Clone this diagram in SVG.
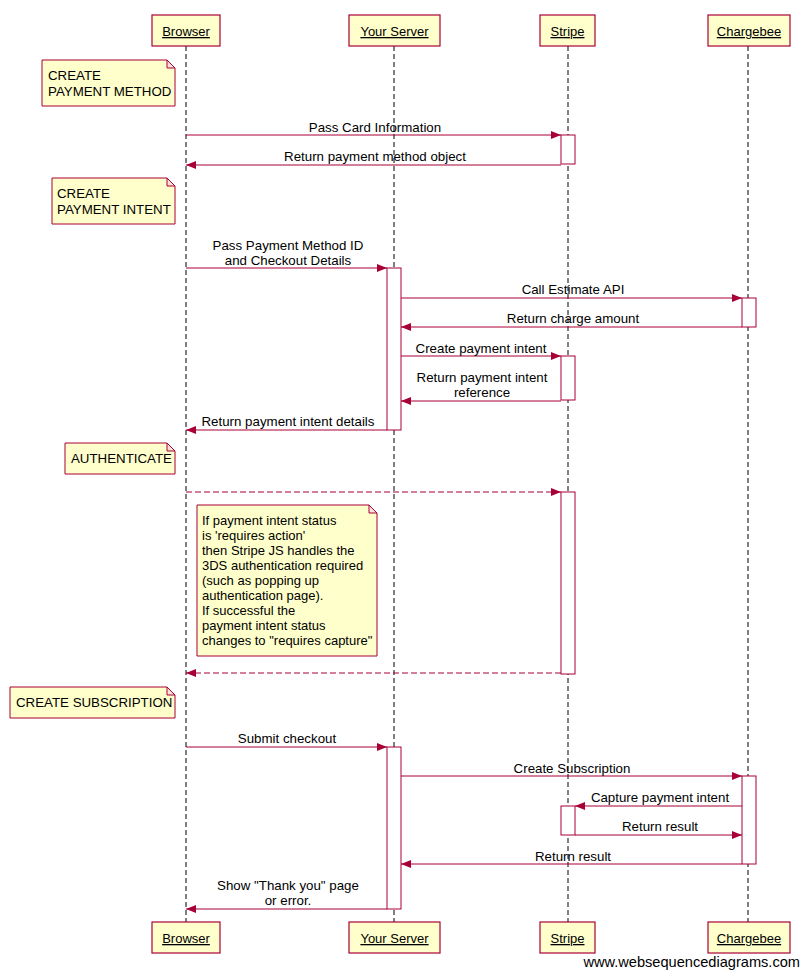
<svg xmlns="http://www.w3.org/2000/svg" width="805" height="977" viewBox="0 0 805 977">
<style>
text{font-family:"Liberation Sans",Arial,sans-serif;font-size:13.3px;fill:#000}
.pbox{fill:#ffffcc;stroke:#a80036;stroke-width:1.2}
.plab{text-anchor:middle;text-decoration:underline;font-size:13px}
.life{stroke:#000;stroke-width:1;stroke-dasharray:5,3}
.act{fill:#fff;stroke:#a80036;stroke-width:1}
.note{fill:#ffffcc;stroke:#a80036;stroke-width:1}
.ear{fill:#fbe0d8;stroke:#a80036;stroke-width:1}
.msg{stroke:#a80036;stroke-width:1;fill:none;marker-end:url(#ah)}
.dash{stroke-dasharray:6,3}
.ml{text-anchor:middle}
.nt{font-size:13px}
</style>
<defs>
<marker id="ah" viewBox="0 0 10 8" refX="10" refY="4" markerWidth="10" markerHeight="8" markerUnits="userSpaceOnUse" orient="auto">
<path d="M0,0 L10,4 L0,8 z" fill="#a80036"/>
</marker>
</defs>
<rect width="805" height="977" fill="#fff"/>
<g id="lifelines">
<line class="life" x1="186" y1="46" x2="186" y2="922"/>
<line class="life" x1="394" y1="46" x2="394" y2="922"/>
<line class="life" x1="568" y1="46" x2="568" y2="922"/>
<line class="life" x1="748" y1="46" x2="748" y2="922"/>
</g>
<g id="p-browser">
<rect class="pbox" x="152" y="15" width="68" height="31"/><text class="plab" x="186" y="36">Browser</text>
<rect class="pbox" x="152" y="922" width="68" height="31"/><text class="plab" x="186" y="943">Browser</text>
</g>
<g id="p-server">
<rect class="pbox" x="349" y="15" width="91" height="31"/><text class="plab" x="394.5" y="36">Your Server</text>
<rect class="pbox" x="349" y="922" width="91" height="31"/><text class="plab" x="394.5" y="943">Your Server</text>
</g>
<g id="p-stripe">
<rect class="pbox" x="540" y="15" width="55" height="31"/><text class="plab" x="567.5" y="36">Stripe</text>
<rect class="pbox" x="540" y="922" width="55" height="31"/><text class="plab" x="567.5" y="943">Stripe</text>
</g>
<g id="p-chargebee">
<rect class="pbox" x="708" y="15" width="82" height="31"/><text class="plab" x="749" y="36">Chargebee</text>
<rect class="pbox" x="708" y="922" width="82" height="31"/><text class="plab" x="749" y="943">Chargebee</text>
</g>
<g id="activations">
<rect class="act" x="561" y="135" width="14" height="29"/>
<rect class="act" x="387" y="268" width="14" height="162"/>
<rect class="act" x="742" y="298" width="14" height="29"/>
<rect class="act" x="561" y="356" width="14" height="44"/>
<rect class="act" x="561" y="492" width="14" height="182"/>
<rect class="act" x="387" y="747" width="14" height="162"/>
<rect class="act" x="742" y="776" width="14" height="88"/>
<rect class="act" x="561" y="806" width="14" height="29"/>
</g>
<g id="note-method">
<path class="note" d="M42,60 H167 L175,68 V106 H42 Z"/><path class="ear" d="M167,60 V68 H175 Z"/>
<text x="48" y="80">CREATE</text><text x="48" y="96">PAYMENT METHOD</text>
</g>
<g id="note-intent">
<path class="note" d="M52,178 H167 L175,186 V224 H52 Z"/><path class="ear" d="M167,178 V186 H175 Z"/>
<text x="57" y="198">CREATE</text><text x="57" y="214">PAYMENT INTENT</text>
</g>
<g id="note-auth">
<path class="note" d="M65,443 H167 L175,451 V474 H65 Z"/><path class="ear" d="M167,443 V451 H175 Z"/>
<text x="71" y="463">AUTHENTICATE</text>
</g>
<g id="note-3ds">
<path class="note" d="M197,505 H369 L377,513 V656 H197 Z"/><path class="ear" d="M369,505 V513 H377 Z"/>
<text class="nt" x="202" y="525">If payment intent status</text>
<text class="nt" x="202" y="540">is 'requires action'</text>
<text class="nt" x="202" y="555">then Stripe JS handles the</text>
<text class="nt" x="202" y="570">3DS authentication required</text>
<text class="nt" x="202" y="585">(such as popping up</text>
<text class="nt" x="202" y="600">authentication page).</text>
<text class="nt" x="202" y="615">If successful the</text>
<text class="nt" x="202" y="630">payment intent status</text>
<text class="nt" x="202" y="645">changes to "requires capture"</text>
</g>
<g id="note-sub">
<path class="note" d="M10,687 H167 L175,695 V718 H10 Z"/><path class="ear" d="M167,687 V695 H175 Z"/>
<text x="16" y="707">CREATE SUBSCRIPTION</text>
</g>
<g id="connectors">
<line class="msg" x1="186" y1="135" x2="561" y2="135"/>
<text class="ml" x="375" y="132">Pass Card Information</text>
<line class="msg" x1="561" y1="165" x2="186" y2="165"/>
<text class="ml" x="375" y="161">Return payment method object</text>
<line class="msg" x1="186" y1="268" x2="387" y2="268"/>
<text class="ml" x="288" y="250">Pass Payment Method ID</text>
<text class="ml" x="288" y="265">and Checkout Details</text>
<line class="msg" x1="401" y1="298" x2="742" y2="298"/>
<text class="ml" x="573" y="294">Call Estimate API</text>
<line class="msg" x1="742" y1="327" x2="401" y2="327"/>
<text class="ml" x="573" y="323">Return charge amount</text>
<line class="msg" x1="401" y1="356" x2="561" y2="356"/>
<text class="ml" x="481" y="353">Create payment intent</text>
<line class="msg" x1="561" y1="401" x2="401" y2="401"/>
<text class="ml" x="482" y="382">Return payment intent</text>
<text class="ml" x="482" y="397">reference</text>
<line class="msg" x1="387" y1="430" x2="186" y2="430"/>
<text class="ml" x="288" y="426">Return payment intent details</text>
<line class="msg dash" x1="186" y1="492" x2="561" y2="492"/>
<line class="msg dash" x1="561" y1="673" x2="186" y2="673"/>
<line class="msg" x1="186" y1="747" x2="387" y2="747"/>
<text class="ml" x="287" y="743">Submit checkout</text>
<line class="msg" x1="401" y1="776" x2="742" y2="776"/>
<text class="ml" x="572" y="773">Create Subscription</text>
<line class="msg" x1="742" y1="806" x2="575" y2="806"/>
<text class="ml" x="660" y="802">Capture payment intent</text>
<line class="msg" x1="575" y1="835" x2="742" y2="835"/>
<text class="ml" x="660" y="831">Return result</text>
<line class="msg" x1="742" y1="864" x2="401" y2="864"/>
<text class="ml" x="573" y="861">Return result</text>
<line class="msg" x1="387" y1="909" x2="186" y2="909"/>
<text class="ml" x="288" y="890">Show "Thank you" page</text>
<text class="ml" x="288" y="905">or error.</text>
</g>
<text x="800" y="967" text-anchor="end" style="font-size:14.6px">www.websequencediagrams.com</text>
</svg>
